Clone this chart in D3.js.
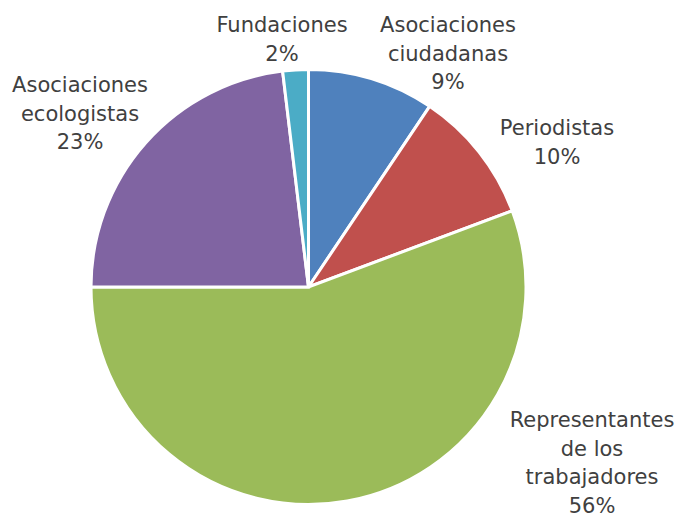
<!DOCTYPE html>
<html>
<head>
<meta charset="utf-8">
<script src="https://cdn.jsdelivr.net/npm/d3@7"></script>
<style>
  html, body { margin: 0; padding: 0; background: #fff; }
  svg { display: block; }
</style>
</head>
<body>
<svg id="chart" width="677" height="518"></svg>
<script>
// ---- data ----
const categories = ["Asociaciones ciudadanas", "Periodistas", "Representantes de los trabajadores", "Asociaciones ecologistas", "Fundaciones"];
const values = [9.4, 9.9, 55.7, 23.1, 1.9];
const labelLines = [["Asociaciones", "ciudadanas"], ["Periodistas"], ["Representantes", "de los", "trabajadores"], ["Asociaciones", "ecologistas"], ["Fundaciones"]];
const colors = ["#4F81BD", "#C0504D", "#9BBB59", "#8064A2", "#4BACC6"];

// ---- layout ----
const W = 677, H = 518;
const cx = 308.5, cy = 287, R = 217.5;
// label anchors: x centre, baseline y of first line
const labelAnchors = [[448, 32], [557, 135], [592, 427], [80, 92], [282, 32]];
const lineH = 28.5;

const svg = d3.select("#chart");
const g = svg.append("g").attr("transform", `translate(${cx},${cy})`);

const pie = d3.pie().sort(null).value(d => d)(values);
const arc = d3.arc().innerRadius(0).outerRadius(R);

g.selectAll("path").data(pie).join("path")
  .attr("d", arc)
  .attr("fill", (d, i) => colors[i])
  .attr("stroke", "#fff")
  .attr("stroke-width", 3)
  .attr("stroke-linejoin", "miter");

const total = d3.sum(values);
const labels = svg.append("g")
  .attr("font-family", "'DejaVu Sans', sans-serif")
  .attr("font-size", 21)
  .attr("fill", "#404040")
  .attr("text-anchor", "middle");

categories.forEach((c, i) => {
  const lines = labelLines[i].concat([Math.round(values[i] / total * 100) + "%"]);
  const t = labels.append("text").attr("x", labelAnchors[i][0]).attr("y", labelAnchors[i][1]);
  lines.forEach((ln, j) => {
    t.append("tspan").attr("x", labelAnchors[i][0]).attr("y", labelAnchors[i][1] + j * lineH).text(ln);
  });
});
</script>
</body>
</html>
